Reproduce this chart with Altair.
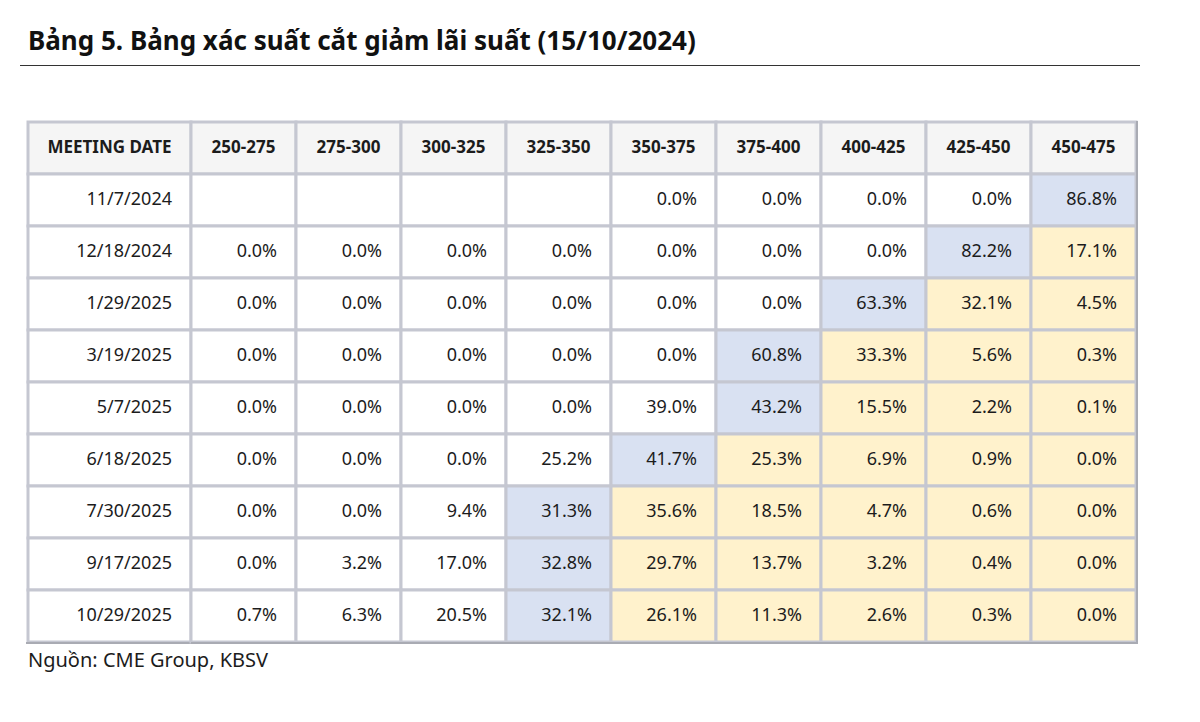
import altair as alt
import pandas as pd

title_text = "Bảng 5. Bảng xác suất cắt giảm lãi suất (15/10/2024)"
source_text = "Nguồn: CME Group, KBSV"
header_first = "MEETING DATE"
rates = ["250-275", "275-300", "300-325", "325-350", "350-375",
         "375-400", "400-425", "425-450", "450-475"]
dates = ["11/7/2024", "12/18/2024", "1/29/2025", "3/19/2025", "5/7/2025",
         "6/18/2025", "7/30/2025", "9/17/2025", "10/29/2025"]
probs = [
    [None, None, None, None, 0.0, 0.0, 0.0, 0.0, 86.8],
    [0.0, 0.0, 0.0, 0.0, 0.0, 0.0, 0.0, 82.2, 17.1],
    [0.0, 0.0, 0.0, 0.0, 0.0, 0.0, 63.3, 32.1, 4.5],
    [0.0, 0.0, 0.0, 0.0, 0.0, 60.8, 33.3, 5.6, 0.3],
    [0.0, 0.0, 0.0, 0.0, 39.0, 43.2, 15.5, 2.2, 0.1],
    [0.0, 0.0, 0.0, 25.2, 41.7, 25.3, 6.9, 0.9, 0.0],
    [0.0, 0.0, 9.4, 31.3, 35.6, 18.5, 4.7, 0.6, 0.0],
    [0.0, 3.2, 17.0, 32.8, 29.7, 13.7, 3.2, 0.4, 0.0],
    [0.7, 6.3, 20.5, 32.1, 26.1, 11.3, 2.6, 0.3, 0.0],
]
# index of the highlighted (target) rate bucket for each meeting
target_idx = [8, 7, 6, 5, 5, 4, 3, 3, 3]

HDR = "__hdr__"
row_domain = [HDR] + dates
FONT = "Noto Sans"
GRID = "#c5c7d1"
EDGE = "#a9abb3"
TXT = "#1c1c1c"

kind_scale = alt.Scale(domain=["header", "none", "blue", "yellow"],
                       range=["#f5f5f5", "#ffffff", "#d9e1f2", "#fff2cc"])


def ysc(bp=None):
    kw = dict(sort=row_domain,
              scale=alt.Scale(domain=row_domain, paddingInner=0, paddingOuter=0),
              axis=None)
    if bp is not None:
        kw["bandPosition"] = bp
    return alt.Y("row:N", **kw)


# ---- left column (meeting dates)
left_rows = [{"c": "d", "row": HDR, "label": header_first, "kind": "header"}]
for d in dates:
    left_rows.append({"c": "d", "row": d, "label": d, "kind": "none"})
left_df = pd.DataFrame(left_rows)

xl = alt.Scale(domain=["d"], range=[20, 183], paddingInner=0, paddingOuter=0)

lbase = alt.Chart(left_df)
l_rect = lbase.mark_rect(stroke=GRID, strokeWidth=3).encode(
    x=alt.X("c:N", scale=xl, axis=None),
    y=ysc(),
    fill=alt.Fill("kind:N", scale=kind_scale, legend=None),
)
l_hdr = lbase.transform_filter(alt.datum.kind == "header").mark_text(
    font=FONT, fontSize=17, fontWeight="bold", color=TXT, align="center", baseline="middle"
).encode(
    x=alt.X("c:N", scale=xl, axis=None, bandPosition=0.5),
    y=ysc(0.5),
    text="label:N",
)
l_txt = lbase.transform_filter(alt.datum.kind != "header").mark_text(
    font=FONT, fontSize=18, color=TXT, align="right", baseline="middle", dx=-19
).encode(
    x=alt.X("c:N", scale=xl, axis=None, bandPosition=1),
    y=ysc(0.5),
    text="label:N",
)
l_edge = lbase.mark_rule(color=EDGE, strokeWidth=2).encode(
    x=alt.value(18.5), x2=alt.value(183), y=alt.value(521)
)
left = alt.layer(l_rect, l_hdr, l_txt, l_edge).properties(width=183, height=520)

# ---- right grid
cells = []
for j, r in enumerate(rates):
    cells.append({"rate": r, "row": HDR, "label": r, "kind": "header"})
for i, d in enumerate(dates):
    for j, r in enumerate(rates):
        v = probs[i][j]
        lab = "" if v is None else f"{v:.1f}%"
        if j == target_idx[i]:
            k = "blue"
        elif j > target_idx[i]:
            k = "yellow"
        else:
            k = "none"
        cells.append({"rate": r, "row": d, "label": lab, "kind": k})
cells_df = pd.DataFrame(cells)

xr = alt.Scale(domain=rates, paddingInner=0, paddingOuter=0)
rbase = alt.Chart(cells_df)
r_rect = rbase.mark_rect(stroke=GRID, strokeWidth=3).encode(
    x=alt.X("rate:N", sort=rates, scale=xr, axis=None),
    y=ysc(),
    fill=alt.Fill("kind:N", scale=kind_scale, legend=None),
)
r_hdr = rbase.transform_filter(alt.datum.kind == "header").mark_text(
    font=FONT, fontSize=17, fontWeight="bold", color=TXT, align="center", baseline="middle"
).encode(
    x=alt.X("rate:N", sort=rates, scale=xr, axis=None, bandPosition=0.5),
    y=ysc(0.5),
    text="label:N",
)
r_txt = rbase.transform_filter(alt.datum.kind != "header").mark_text(
    font=FONT, fontSize=18, color=TXT, align="right", baseline="middle", dx=-19
).encode(
    x=alt.X("rate:N", sort=rates, scale=xr, axis=None, bandPosition=1),
    y=ysc(0.5),
    text="label:N",
)
r_edge_b = rbase.mark_rule(color=EDGE, strokeWidth=2).encode(
    x=alt.value(0), x2=alt.value(947), y=alt.value(521)
)
r_edge_r = rbase.mark_rule(color=EDGE, strokeWidth=2).encode(
    x=alt.value(946), y=alt.value(-1), y2=alt.value(522)
)
right = alt.layer(r_rect, r_hdr, r_txt, r_edge_b, r_edge_r).properties(width=945, height=520)

table = alt.hconcat(left, right, spacing=0, bounds="flush")

# ---- heading and source
head_df = pd.DataFrame({"t": [title_text]})
head_title = alt.Chart(head_df).mark_text(
    font=FONT, fontSize=26, fontWeight="bold", color="#111111", align="left", baseline="alphabetic"
).encode(x=alt.value(20), y=alt.value(42), text="t:N")
head_rule = alt.Chart(head_df).mark_rule(color="#333333", strokeWidth=1).encode(
    x=alt.value(12), x2=alt.value(1132), y=alt.value(57.5)
)
head = alt.layer(head_title, head_rule).properties(width=1140, height=112)

foot_df = pd.DataFrame({"t": [source_text]})
foot = alt.Chart(foot_df).mark_text(
    font=FONT, fontSize=20, color=TXT, align="left", baseline="alphabetic"
).encode(x=alt.value(20), y=alt.value(22), text="t:N").properties(width=1140, height=40)

chart = alt.vconcat(head, table, foot, spacing=0).properties(
    padding=0, background="white"
).configure_view(stroke=None)

chart.save("out.html", embed_options={"renderer": "svg", "actions": False})
